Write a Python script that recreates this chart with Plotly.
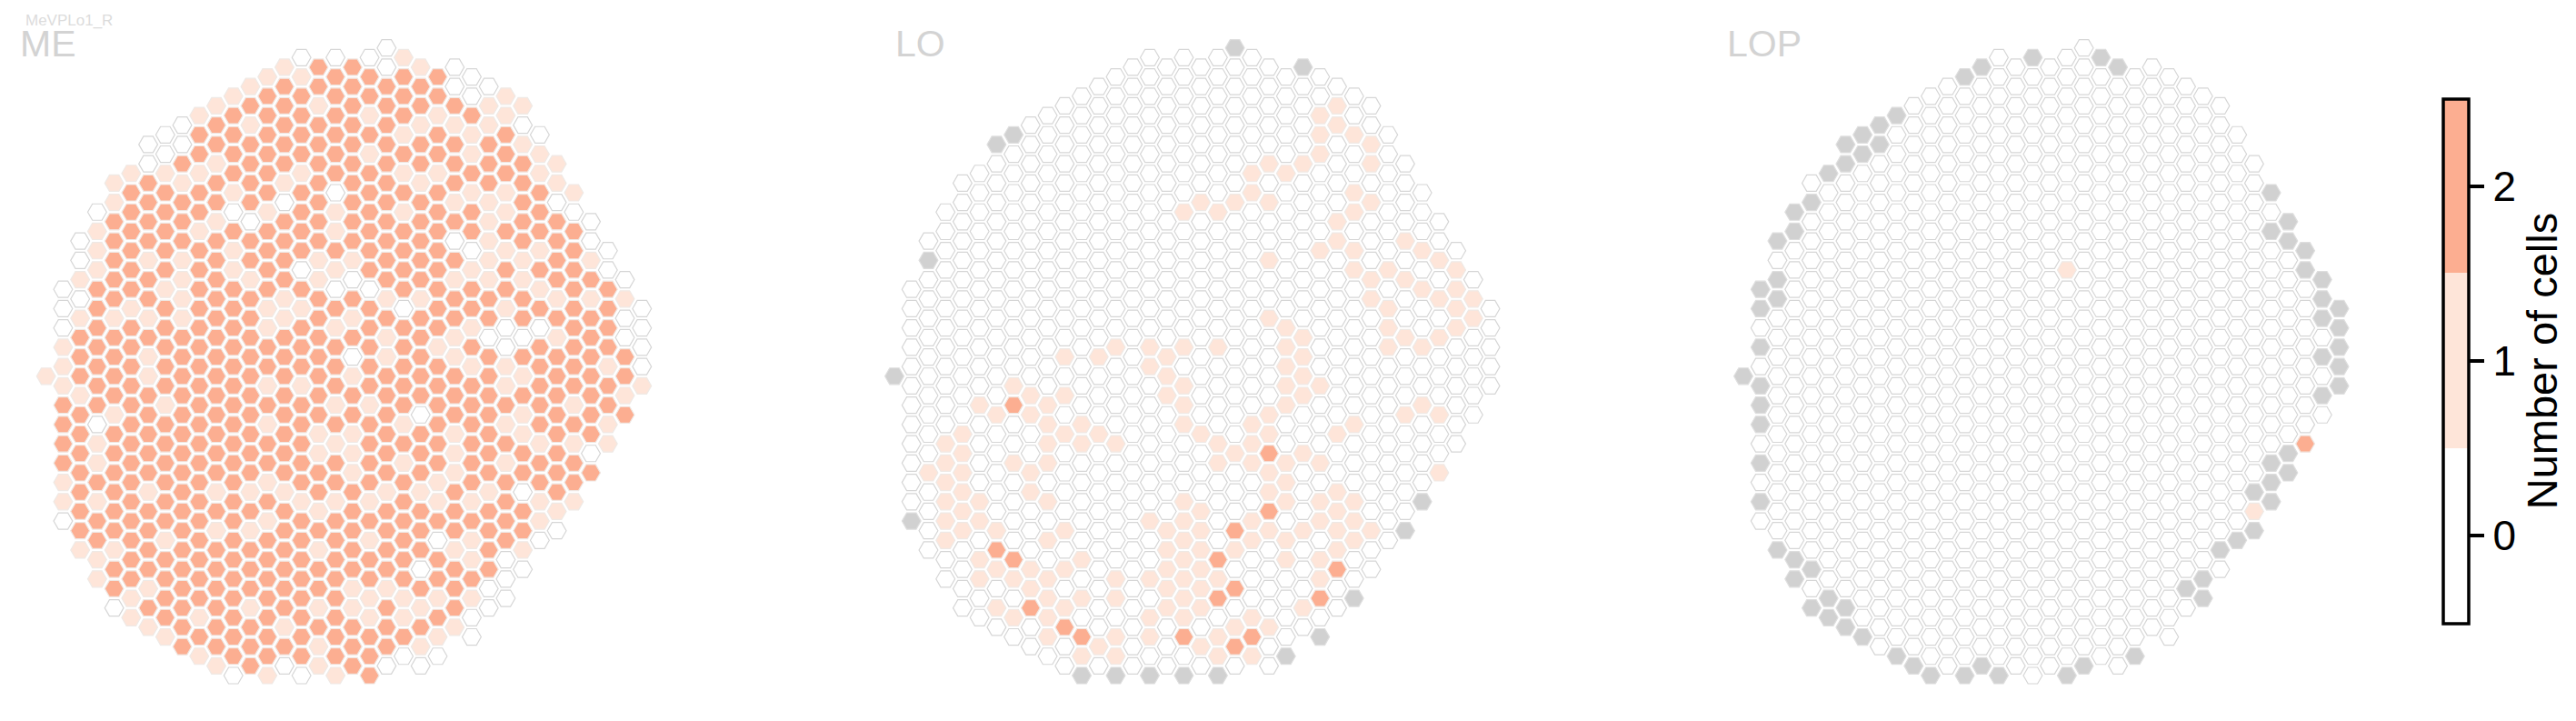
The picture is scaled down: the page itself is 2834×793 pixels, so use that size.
import plotly.graph_objects as go

FONT = "Liberation Sans"
PANEL_TITLES = ["ME", "LO", "LOP"]
SUBTITLE = "MeVPLo1_R"
COLORBAR_TITLE = "Number of cells"
TICK_VALUES = [0, 1, 2]

# Lattice: each entry is one row (half-step); START is its first column, and
# each digit is the cell count of every second column after it.
ME_ROW_START = [20, 15, 14, 13, 12, 11, 10, 9, 8, 7, 6, 7, 6, 5, 4, 5, 4, 3, 4, 3, 2, 3, 2, 3, 2, 1, 2, 1, 2, 1, 2, 1, 2,
                1, 0, 1, 2, 1, 2, 1, 2, 1, 2, 1, 2, 1, 2, 1, 2, 1, 2, 3, 2, 3, 4, 3, 4, 5, 4, 5, 6, 7, 8, 9, 10, 11]
ME_ROW_VALUES = [
    "0", "0001", "122010", "1122220", "12222200", "122222201", "1221222211", "1222212121",
    "02122221110", "022222212120", "002222222221", "022222122121", "0212222222221",
    "1112212211221", "12122122212221", "22212202221121", "12222022221120",
    "022201212122120", "222102222221220", "122122212222222", "0222222222201220",
    "1222122222201120", "0211222112221121", "1222120122212220", "12212121022111220",
    "02212222002222122", "02212212211222111", "021222112202212220", "11112212122222220",
    "022222121222100220", "22222222212100120", "122222222221202220", "22122222012122222",
    "122222222222112210", "122122222122221222", "122222112222212221", "12222222222222221",
    "22212222112222212", "21222222220221222", "20222212221221221", "2222222112212122",
    "21222222122222111", "2222222112212220", "2122222222122122", "2222222212212222",
    "1222221222212222", "221211122112102", "1122222111211211", "222222212222221",
    "022222122222221", "222211222222220", "22122222120120", "11222221222121",
    "1222222222210", "2222222220220", "1222222222220", "212222211220", "122222211110",
    "022212112120", "12122221120", "1222122221", "1222222210", "22221221", "12222200",
    "1201200", "01012",
]

# Sparse panels: (column, row) of cells that are not zero; the rest of the lattice is 0.
LO_ONE = [
    (18,16),(17,17),(19,17),(20,16),(21,15),(22,16),(21,13),(22,12),(23,13),(24,12),(25,11),(25,9),(25,7),(26,6),(26,8),
    (27,9),(28,10),(28,12),(27,15),(28,16),(27,17),(26,18),(26,20),(25,21),(27,21),(27,23),(28,24),(29,23),(30,24),(30,20),
    (31,21),(32,22),(33,23),(31,25),(32,26),(33,25),(34,26),(33,27),(34,28),(33,29),(32,30),(31,31),(30,30),(29,29),(29,31),
    (28,26),(29,27),(22,22),(22,28),(23,29),(24,30),(23,31),(24,32),(23,33),(19,31),(17,31),(10,32),(12,32),(13,31),(15,31),
    (15,33),(16,32),(16,34),(17,35),(16,36),(17,37),(17,39),(18,40),(19,41),(19,43),(7,35),(8,36),(10,36),(5,37),(9,37),
    (6,38),(8,38),(9,39),(11,39),(10,40),(12,40),(4,40),(3,41),(9,41),(11,41),(13,41),(4,42),(3,43),(7,43),(9,43),(2,44),
    (4,44),(8,44),(3,45),(4,46),(8,46),(3,47),(5,47),(9,47),(4,48),(3,49),(5,49),(4,50),(6,50),(3,51),(10,50),(9,51),(5,53),
    (6,54),(8,54),(5,55),(7,55),(9,55),(8,56),(9,57),(10,54),(11,53),(11,57),(13,55),(13,57),(6,58),(10,58),(7,59),(9,59),
    (9,61),(12,62),(13,61),(11,63),(13,63),(15,61),(18,62),(19,61),(19,63),(15,49),(16,50),(17,49),(18,48),(17,47),(18,50),
    (17,51),(16,52),(18,52),(16,54),(17,53),(18,54),(15,55),(17,55),(16,56),(18,56),(16,58),(18,58),(15,59),(17,59),(17,57),
    (24,34),(23,35),(25,35),(24,36),(23,37),(22,38),(21,39),(22,40),(21,41),(20,42),(21,43),(23,43),(24,42),(25,43),(22,44),
    (23,45),(22,46),(23,47),(21,49),(21,51),(22,50),(23,51),(24,50),(20,52),(23,53),(25,53),(19,55),(21,59),(20,60),(22,60),
    (26,46),(25,47),(27,47),(26,48),(25,49),(27,49),(26,50),(28,50),(27,51),(26,52),(25,55),(24,58),(27,39),(26,40),(30,38),
    (31,37),(32,38),(32,44),(21,63),
]
LO_TWO = [(7,37),(6,52),(7,53),(8,58),(10,60),(11,61),(17,61),(19,53),(19,57),(20,56),(22,42),(22,48),(20,50),(26,54),(25,57),(21,61),(20,62)]
LO_NODATA = [(7,9),(6,10),(2,22),(20,0),(24,2),(0,34),(1,49),(11,65),(13,65),(15,65),(17,65),(19,65),(31,47),(30,50),(27,57),(25,61),(23,63)]

LOP_ONE = [(19,23),(30,48)]
LOP_TWO = [(33,41)]
LOP_NODATA = [
    (17,1),(14,2),(13,3),(9,7),(8,8),(7,9),(6,10),(8,10),(7,11),(6,12),(5,13),(4,16),(3,17),(3,19),(2,20),(2,24),(1,25),(2,26),
    (1,27),(1,31),(21,1),(22,2),(31,15),(32,18),(31,19),(32,20),(33,21),(33,23),(34,24),(34,26),(35,27),(34,28),(35,29),(35,31),
    (34,32),(35,33),(0,34),(1,35),(1,37),(1,39),(1,43),(1,47),(2,52),(3,53),(4,54),(3,55),(5,57),(4,58),(6,58),(5,59),(6,60),(7,61),
    (9,63),(10,64),(11,65),(13,65),(14,64),(15,65),(19,65),(20,64),(23,63),(35,35),(34,36),(32,42),(31,43),(32,44),(31,45),(30,46),
    (31,47),(30,50),(29,51),(28,52),(27,55),(26,56),(27,57),
]

# Styles
WHITE, LIGHT, DARK, NODATA = "#ffffff", "#fee5d9", "#fcae91", "#d1d1d1"
TITLE_COLOR = "#d3d3d3"
LINE_BY_VALUE = {0: "#d6d6d6", 1: "#efe9e5", 2: "#efe6e1"}
# The page's default body margin puts the figure at (8, 8).
PAGE_MARGIN = 8
W, H = 2834 - 2 * PAGE_MARGIN, 793 - 2 * PAGE_MARGIN
COL_PX, ROW_PX = 18.73, 10.62
TOP_ROW_PX = 52.7 - PAGE_MARGIN
PANEL_LEFT_PX = [50.7 - PAGE_MARGIN, 984.0 - PAGE_MARGIN, 1918.0 - PAGE_MARGIN]
PAD = 30
PANEL_W = 720
MARKER = dict(symbol="hexagon2", size=20.8)


def lattice():
    cells = {}
    for r, (s, vals) in enumerate(zip(ME_ROW_START, ME_ROW_VALUES)):
        for i, v in enumerate(vals):
            cells[(s + 2 * i, r)] = int(v)
    return cells


me_cells = lattice()


def sparse(ones, twos, nodata):
    cells = {k: 0 for k in me_cells}
    for k in ones:
        cells[k] = 1
    for k in twos:
        cells[k] = 2
    for k in nodata:
        cells[k] = None
    return cells


panels = [me_cells, sparse(LO_ONE, LO_TWO, LO_NODATA), sparse(LOP_ONE, LOP_TWO, LOP_NODATA)]

fig = go.Figure()
layout = {}
for p, cells in enumerate(panels):
    sfx = "" if p == 0 else str(p + 1)
    xa, ya = "x" + sfx, "y" + sfx
    vals = [(k, v) for k, v in cells.items() if v is not None]
    gray = [k for k, v in cells.items() if v is None]
    fig.add_trace(go.Scatter(
        x=[k[0] for k, v in vals], y=[k[1] for k, v in vals], mode="markers", xaxis=xa, yaxis=ya,
        showlegend=False, hoverinfo="skip",
        marker=dict(**MARKER, color=[v for k, v in vals], coloraxis="coloraxis",
                    line=dict(width=1.2, color=[LINE_BY_VALUE[v] for k, v in vals])),
    ))
    if gray:
        fig.add_trace(go.Scatter(
            x=[k[0] for k in gray], y=[k[1] for k in gray], mode="markers", xaxis=xa, yaxis=ya,
            showlegend=False, hoverinfo="skip",
            marker=dict(**MARKER, color=NODATA, line=dict(width=1.2, color="#dedede")),
        ))
    left = PANEL_LEFT_PX[p] - PAD
    layout["xaxis" + sfx] = dict(domain=[max(left, 0) / W, (left + PANEL_W) / W], anchor=ya, visible=False,
                                 range=[-(PANEL_LEFT_PX[p] - max(left, 0)) / COL_PX, (PANEL_W - PAD) / COL_PX])
    layout["yaxis" + sfx] = dict(domain=[0, 1], anchor=xa, visible=False,
                                 range=[(H - TOP_ROW_PX) / ROW_PX, -TOP_ROW_PX / ROW_PX])

title_x = [19.5 - PAGE_MARGIN, 982.5 - PAGE_MARGIN, 1898 - PAGE_MARGIN]
annotations = [
    dict(text=t, x=x / W, y=1 - (48 - PAGE_MARGIN) / H, xref="paper", yref="paper", xanchor="left", yanchor="middle",
         showarrow=False, font=dict(family=FONT, size=41, color=TITLE_COLOR))
    for t, x in zip(PANEL_TITLES, title_x)
]
annotations.append(dict(text=SUBTITLE, x=(26 - PAGE_MARGIN) / W, y=1 - (22.5 - PAGE_MARGIN) / H, xref="paper", yref="paper",
                        xanchor="left", yanchor="middle", showarrow=False,
                        font=dict(family=FONT, size=17, color="#dcdcdc")))

cut1, cut2 = 1 / 3, 2 / 3
fig.update_layout(
    width=W, height=H, margin=dict(l=0, r=0, t=0, b=0), autosize=False,
    paper_bgcolor="white", plot_bgcolor="white", showlegend=False, annotations=annotations,
    font=dict(family=FONT, color="black"),
    coloraxis=dict(
        cmin=-0.5, cmax=2.5,
        colorscale=[[0, WHITE], [cut1, WHITE], [cut1, LIGHT], [cut2, LIGHT], [cut2, DARK], [1, DARK]],
        colorbar=dict(
            x=(2688 - PAGE_MARGIN) / W, xanchor="left", y=1 - (108.5 - PAGE_MARGIN) / H, yanchor="top",
            lenmode="pixels", len=577,
            thicknessmode="pixels", thickness=28, outlinewidth=3.5, outlinecolor="black", xpad=0, ypad=0,
            tickmode="array", tickvals=TICK_VALUES, ticktext=[str(v) for v in TICK_VALUES],
            ticks="outside", ticklen=16, tickwidth=4, tickcolor="black",
            tickfont=dict(family=FONT, size=46, color="black"),
            title=dict(text=COLORBAR_TITLE, side="right", font=dict(family=FONT, size=47, color="black")),
        ),
    ),
    **layout,
)

fig.write_html("out.html")
